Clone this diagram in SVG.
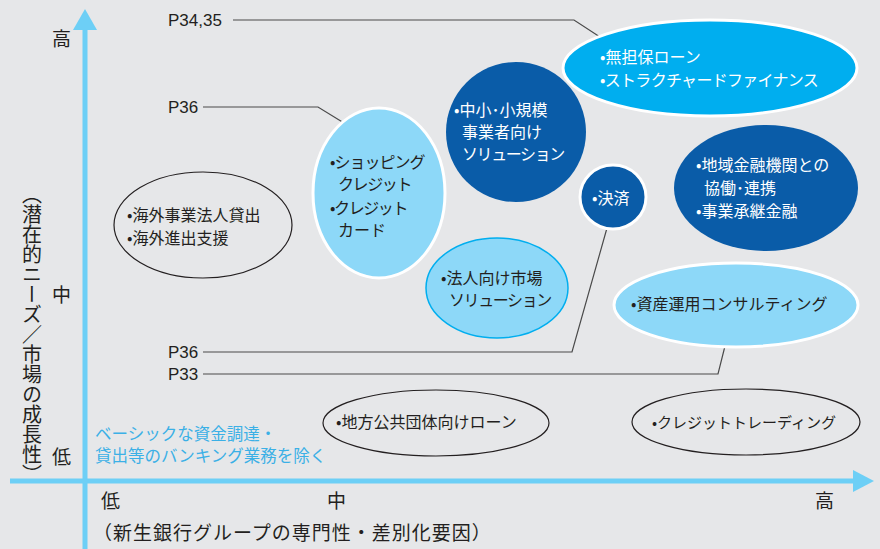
<svg xmlns="http://www.w3.org/2000/svg" width="880" height="549" viewBox="0 0 880 549">
<style>
text{font-family:"Noto Sans CJK JP","Noto Sans",sans-serif;font-size:16px;fill:#231f20}
.t{letter-spacing:-1.4px}
.w{fill:#ffffff}
.p{font-family:"Liberation Sans",Arial,sans-serif;font-size:17px;fill:#231f20}
.ax{font-size:19px}
.lead{fill:none;stroke:#4a4a4a;stroke-width:1.2}
.axis{stroke:#6dcff6;stroke-width:5;fill:none}
.outline{fill:none;stroke:#231f20;stroke-width:1.2}
</style>
<rect width="880" height="549" fill="#e6e7e9"/>
<g id="axes">
<line class="axis" x1="85" y1="28" x2="85" y2="549"/>
<polygon points="73,30 97,30 85,9" fill="#6dcff6"/>
<line class="axis" x1="10" y1="481" x2="855" y2="481"/>
<polygon points="853,470 853,492 874,481" fill="#6dcff6"/>
<text class="ax" x="52" y="46">高</text>
<text class="ax" x="52" y="302">中</text>
<text class="ax" x="52" y="464">低</text>
<text class="ax" x="32" y="184" style="writing-mode:vertical-rl;font-size:20px">（潜在的ニーズ／市場の成長性）</text>
<text class="ax" x="101" y="508">低</text>
<text class="ax" x="327" y="508">中</text>
<text class="ax" x="815" y="508">高</text>
<text class="ax" x="93" y="540" style="letter-spacing:1px">（新生銀行グループの専門性・差別化要因）</text>
<text x="95" y="440" style="fill:#3bb0e6;font-size:16.5px">ベーシックな資金調達・</text>
<text x="95" y="462" style="fill:#3bb0e6;font-size:16.5px">貸出等のバンキング業務を除く</text>
</g>
<g id="connectors">
<polyline class="lead" points="233,20 574,20 600,37"/>
<polyline class="lead" points="203,107 318,107 344,123"/>
<polyline class="lead" points="203,352 572,352 607,228"/>
<polyline class="lead" points="203,374 718,374 725,346"/>
<text class="p" x="168" y="26">P34,35</text>
<text class="p" x="168" y="113">P36</text>
<text class="p" x="168" y="358">P36</text>
<text class="p" x="168" y="380">P33</text>
</g>
<g id="node-unsecured">
<ellipse cx="710" cy="68" rx="147" ry="48" fill="#00aeef" stroke="#ffffff" stroke-width="3"/>
<text class="w" x="600" y="63">•無担保ローン</text>
<text class="w" x="600" y="86" style="letter-spacing:-0.7px">•ストラクチャードファイナンス</text>
</g>
<g id="node-sme">
<ellipse cx="516" cy="132" rx="70" ry="70" fill="#0a5ca8"/>
<text class="w" x="454" y="116">•中小･小規模</text>
<text class="w" x="462" y="138">事業者向け</text>
<text class="w t" x="462" y="160">ソリューション</text>
</g>
<g id="node-shopping">
<ellipse cx="379" cy="193" rx="66" ry="85" fill="#8dd8f8" stroke="#ffffff" stroke-width="3"/>
<text x="330" y="168" style="letter-spacing:-1px">•ショッピング</text>
<text x="338" y="190" style="letter-spacing:-1.4px">クレジット</text>
<text x="330" y="214" style="letter-spacing:-1.4px">•クレジット</text>
<text x="338" y="236">カード</text>
</g>
<g id="node-settlement">
<ellipse cx="613" cy="197" rx="33" ry="32" fill="#0a5ca8" stroke="#ffffff" stroke-width="3"/>
<text class="w" x="592" y="204">•決済</text>
</g>
<g id="node-regional">
<ellipse cx="766" cy="188" rx="92" ry="63" fill="#0a5ca8"/>
<text class="w" x="696" y="171">•地域金融機関との</text>
<text class="w" x="704" y="194">協働･連携</text>
<text class="w" x="696" y="217">•事業承継金融</text>
</g>
<g id="node-corporate-market">
<ellipse cx="497" cy="288" rx="71" ry="50" fill="#8dd8f8" stroke="#00aeef" stroke-width="1.5"/>
<text x="441" y="284">•法人向け市場</text>
<text class="t" x="449" y="306">ソリューション</text>
</g>
<g id="node-asset">
<ellipse cx="736" cy="305" rx="122" ry="42" fill="#8dd8f8" stroke="#ffffff" stroke-width="3"/>
<text x="631" y="310">•資産運用コンサルティング</text>
</g>
<g id="node-overseas">
<ellipse class="outline" cx="203" cy="225" rx="89" ry="53"/>
<text x="127" y="221">•海外事業法人貸出</text>
<text x="127" y="244">•海外進出支援</text>
</g>
<g id="node-municipal">
<ellipse class="outline" cx="436" cy="423" rx="113" ry="33"/>
<text x="336" y="428">•地方公共団体向けローン</text>
</g>
<g id="node-credit-trading">
<ellipse class="outline" cx="746" cy="422" rx="114" ry="33"/>
<text x="652" y="428" style="font-size:15px">•クレジットトレーディング</text>
</g>
</svg>
